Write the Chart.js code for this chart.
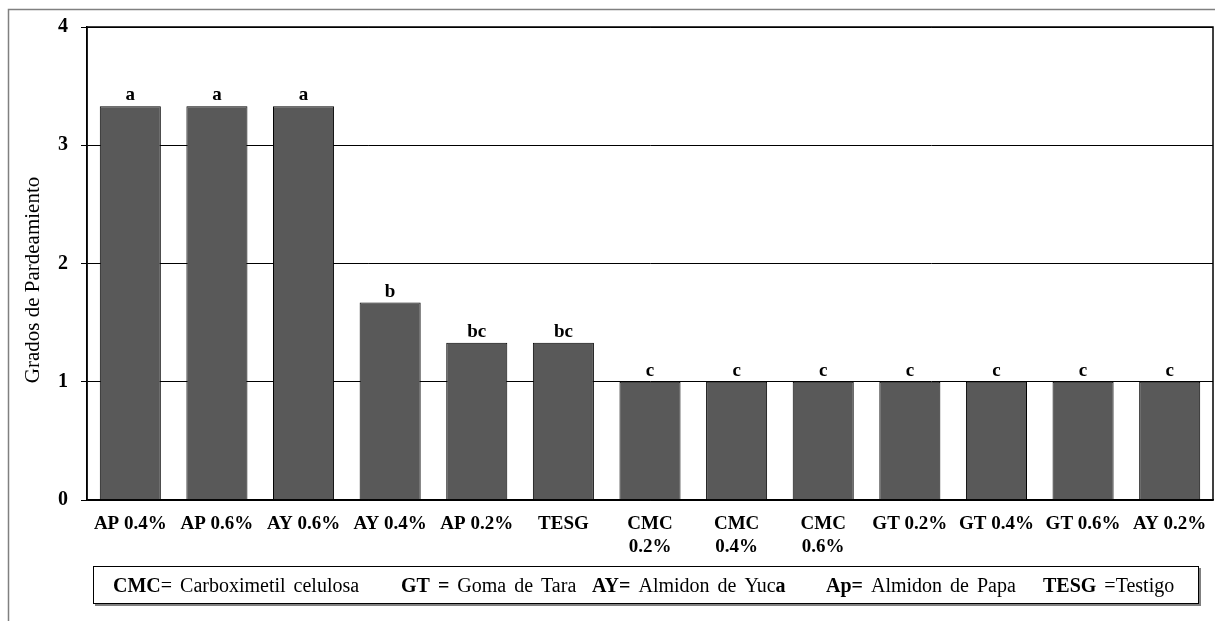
<!DOCTYPE html>
<html>
<head>
<meta charset="utf-8">
<script src="https://cdn.jsdelivr.net/npm/chart.js"></script>
<style>
  body { margin: 0; background: #ffffff; }
  #contenedor { width: 1215px; height: 621px; }
</style>
</head>
<body>
<div id="contenedor"><canvas id="pardeamiento"></canvas></div>
<script>
// datos
const tratamientos = ['AP 0.4%', 'AP 0.6%', 'AY 0.6%', 'AY 0.4%', 'AP 0.2%', 'TESG',
  ['CMC', '0.2%'], ['CMC', '0.4%'], ['CMC', '0.6%'], 'GT 0.2%', 'GT 0.4%', 'GT 0.6%', 'AY 0.2%'];
const grados = [3.33, 3.33, 3.33, 1.67, 1.33, 1.33, 1, 1, 1, 1, 1, 1, 1];
const letras = ['a', 'a', 'a', 'b', 'bc', 'bc', 'c', 'c', 'c', 'c', 'c', 'c', 'c'];
const ejeYMin = 0;
const ejeYMax = 4;
const tituloY = 'Grados de Pardeamiento';

// grupos de la leyenda: [texto, negrita]
const leyenda = [
  [['CMC', true], ['= Carboximetil celulosa', false]],
  [['GT =', true], [' Goma de Tara', false]],
  [['AY=', true], [' Almidon de Yuc', false], ['a', true]],
  [['Ap=', true], [' Almidon de Papa', false]],
  [['TESG', true], [' =Testigo', false]]
];
const leyendaX = [113, 401, 592, 826, 1043];

const fuente = '"Liberation Serif", "Times New Roman", serif';

const dibujoPlugin = {
  id: 'dibujoPlugin',
  beforeDraw: (chart) => {
    const ctx = chart.ctx;
    ctx.save();
    // marco exterior gris
    ctx.strokeStyle = '#808080';
    ctx.lineWidth = 1.5;
    ctx.beginPath();
    ctx.moveTo(8.5, 621);
    ctx.lineTo(8.5, 9.5);
    ctx.lineTo(1215, 9.5);
    ctx.stroke();
    ctx.restore();
  },
  afterDatasetsDraw: (chart) => {
    const ctx = chart.ctx;
    const meta = chart.getDatasetMeta(0);
    ctx.save();
    ctx.fillStyle = '#000000';
    ctx.font = 'bold 19px ' + fuente;
    ctx.textAlign = 'center';
    ctx.textBaseline = 'alphabetic';
    meta.data.forEach((barra, i) => {
      ctx.fillText(letras[i], barra.x, barra.y - 6);
    });
    ctx.restore();
  },
  afterDraw: (chart) => {
    const ctx = chart.ctx;
    const area = chart.chartArea;
    ctx.save();
    // borde del area de trazado
    ctx.strokeStyle = '#000000';
    ctx.lineWidth = 1.5;
    ctx.strokeRect(area.left, area.top, area.right - area.left, area.bottom - area.top);

    // titulo del eje Y
    ctx.fillStyle = '#000000';
    ctx.font = '21px ' + fuente;
    ctx.textAlign = 'center';
    ctx.textBaseline = 'middle';
    ctx.translate(33, 280);
    ctx.rotate(-Math.PI / 2);
    ctx.fillText(tituloY, 0, 0);
    ctx.restore();

    // caja de la leyenda
    ctx.save();
    ctx.strokeStyle = '#808080';
    ctx.lineWidth = 2;
    ctx.beginPath();
    ctx.moveTo(95, 605);
    ctx.lineTo(1200, 605);
    ctx.lineTo(1200, 568);
    ctx.stroke();
    ctx.strokeStyle = '#000000';
    ctx.lineWidth = 1;
    ctx.strokeRect(93.5, 566.5, 1105, 37);
    ctx.fillStyle = '#000000';
    ctx.textAlign = 'left';
    ctx.textBaseline = 'alphabetic';
    if ('wordSpacing' in ctx) ctx.wordSpacing = '3px';
    leyenda.forEach((grupo, g) => {
      let x = leyendaX[g];
      grupo.forEach((p) => {
        ctx.font = (p[1] ? 'bold ' : '') + '20px ' + fuente;
        ctx.fillText(p[0], x, 592);
        x += ctx.measureText(p[0]).width;
      });
    });
    ctx.restore();
  }
};

const ctx = document.getElementById('pardeamiento');

const chart = new Chart(ctx, {
  type: 'bar',
  data: {
    labels: tratamientos,
    datasets: [{
      data: grados,
      backgroundColor: '#595959',
      borderColor: '#000000',
      borderWidth: 1,
      categoryPercentage: 1,
      barPercentage: 0.705
    }]
  },
  options: {
    responsive: true,
    maintainAspectRatio: false,
    devicePixelRatio: 1,
    animation: false,
    layout: { padding: { top: 27, right: 2, left: 0, bottom: 0 } },
    plugins: {
      legend: { display: false },
      tooltip: { enabled: false }
    },
    scales: {
      x: {
        grid: { display: false },
        border: { display: true, color: '#000000', width: 1.5 },
        ticks: {
          color: '#000000',
          font: { family: fuente, size: 19, weight: 'bold', lineHeight: 1.21 },
          maxRotation: 0,
          autoSkip: false,
          padding: 5
        },
        afterFit: (scale) => { scale.height = 121; }
      },
      y: {
        min: ejeYMin,
        max: ejeYMax,
        grid: { color: '#000000', lineWidth: 1, tickLength: 6 },
        border: { display: true, color: '#000000', width: 1.5 },
        ticks: {
          stepSize: 1,
          color: '#000000',
          font: { family: fuente, size: 20, weight: 'bold' },
          padding: 13
        },
        afterFit: (scale) => { scale.width = 87; }
      }
    }
  },
  plugins: [dibujoPlugin]
});
</script>
</body>
</html>
